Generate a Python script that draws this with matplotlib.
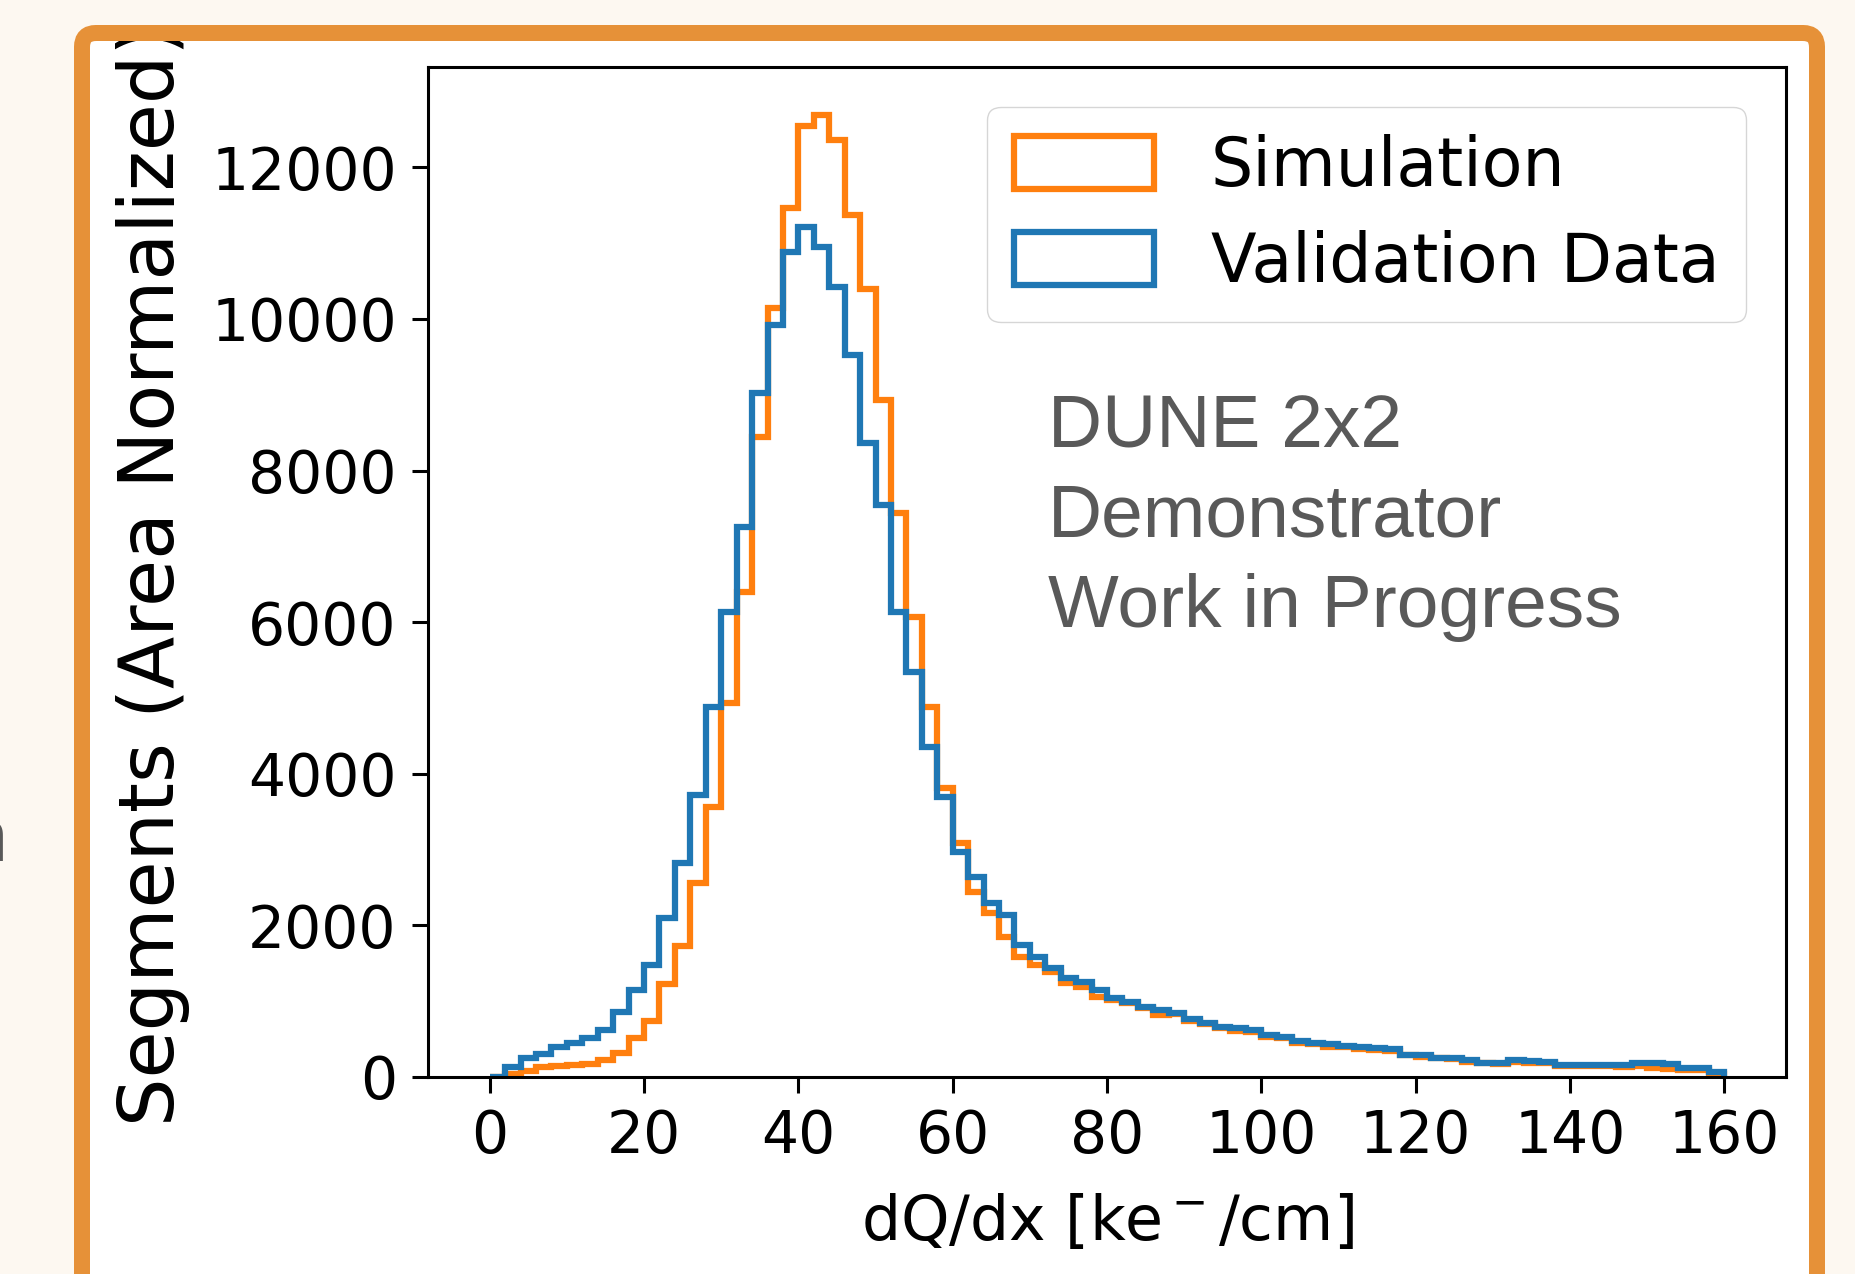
import matplotlib.pyplot as plt
import numpy as np
from matplotlib.patches import FancyBboxPatch
from matplotlib.transforms import IdentityTransform

# dQ/dx bins, 2 ke-/cm wide from 0 to 160
bin_edges = np.arange(0, 162, 2)

# segments per bin (area normalized)
simulation = [
    0, 40, 84, 128, 145, 158, 167, 224, 321, 510,
    743, 1226, 1727, 2562, 3560, 4930, 6400, 8440, 10140, 11470,
    12550, 12690, 12360, 11370, 10400, 8930, 7440, 6070, 4880, 3810,
    3090, 2440, 2160, 1850, 1580, 1480, 1385, 1240, 1190, 1055,
    1020, 975, 905, 820, 830, 740, 700, 650, 610, 600,
    530, 510, 450, 440, 400, 395, 370, 350, 340, 290,
    270, 245, 235, 200, 180, 175, 200, 190, 180, 150,
    145, 140, 140, 135, 150, 120, 100, 90, 90, 40,
]
validation = [
    0, 128, 246, 303, 400, 444, 510, 620, 862, 1147,
    1477, 2093, 2818, 3719, 4875, 6130, 7250, 9020, 9920, 10880,
    11210, 10950, 10420, 9520, 8370, 7540, 6130, 5340, 4350, 3690,
    2967, 2637, 2294, 2136, 1740, 1582, 1437, 1305, 1253, 1147,
    1040, 990, 930, 884, 844, 760, 712, 660, 640, 620,
    554, 528, 470, 455, 430, 415, 400, 380, 370, 295,
    285, 250, 245, 224, 190, 185, 220, 210, 200, 160,
    160, 158, 160, 155, 180, 185, 175, 120, 115, 66,
]

xticks = [0, 20, 40, 60, 80, 100, 120, 140, 160]
yticks = [0, 2000, 4000, 6000, 8000, 10000, 12000]
note_lines = ["DUNE 2x2", "Demonstrator", "Work in Progress"]

W, H = 1855, 1274
fig = plt.figure(figsize=(W / 100, H / 100), dpi=100)
fig.patch.set_facecolor("#fdf8f1")

# slide card: white panel below everything, orange border on top (pixel coords)
for face, edge, z in [("white", "none", -1), ("none", "#e69138", 10)]:
    card = FancyBboxPatch((82, -60), 1817 - 82, 1241 + 60,
                          boxstyle="round,pad=0,rounding_size=14",
                          transform=IdentityTransform(), facecolor=face,
                          edgecolor=edge, linewidth=16 * 0.72, zorder=z)
    fig.add_artist(card)

ax = fig.add_axes([428 / W, 197 / H, 1358 / W, 1010 / H])
ax.hist(bin_edges[:-1], bins=bin_edges, weights=simulation, histtype="step",
        color="tab:orange", linewidth=4.5, label="Simulation")
ax.hist(bin_edges[:-1], bins=bin_edges, weights=validation, histtype="step",
        color="tab:blue", linewidth=4.5, label="Validation Data")

ax.set_xticks(xticks)
ax.set_yticks(yticks)
ax.tick_params(labelsize=42, length=11.5, width=2.2, pad=11)
for s in ax.spines.values():
    s.set_linewidth(2.2)

ax.set_xlabel("dQ/dx [ke$^-$/cm]", fontsize=44.5, labelpad=20)
ax.set_ylabel("Segments (Area Normalized)", fontsize=55)
ax.yaxis.set_label_coords(-0.175, 0.497)

ax.legend(loc="upper right", fontsize=48, handlelength=2.1, handleheight=0.85,
          handletextpad=0.85, borderaxespad=0.6, labelspacing=0.45)

# grey note text box on the slide
for i, line in enumerate(note_lines):
    fig.text(1048 / W, 1 - (447 + 90 * i) / H, line, fontsize=54,
             family="Liberation Sans", color="#595959", va="baseline")

# cut-off letter at the left edge of the slide
fig.text(-34 / W, 1 - 861 / H, "n", fontsize=54, family="Liberation Sans",
         color="#595959", va="baseline")

plt.savefig("out.png", dpi=100)
